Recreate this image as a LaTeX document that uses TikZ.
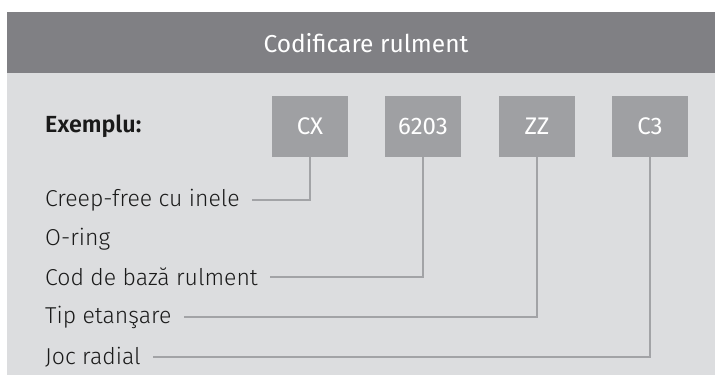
\documentclass[tikz,border=0pt]{standalone}
\usepackage{fontspec}
\setmainfont{Fira Sans Light}[BoldFont={Fira Sans SemiBold}]
\newfontfamily\boxfont{Fira Sans}
\usepackage{tikz}

\definecolor{headgray}{HTML}{808084}
\definecolor{panelgray}{HTML}{DCDDDF}
\definecolor{codegray}{HTML}{9FA0A3}
\definecolor{linegray}{HTML}{A2A3A6}
\definecolor{textdark}{HTML}{1A1A1A}

\tikzset{
  codebox/.style={fill=codegray, minimum width=76pt, minimum height=61pt, inner sep=0pt,
    text=white, font=\boxfont\fontsize{24}{28}\selectfont},
  label/.style={anchor=west, inner sep=0pt, text=textdark, font=\fontsize{23}{26}\selectfont},
  leader/.style={draw=linegray, line width=2pt, shorten >=12pt}
}

\begin{document}
\begin{tikzpicture}[x=1pt,y=-1pt]
            \useasboundingbox (0,0) rectangle (715,383);
            \fill[panelgray] (7,73) rectangle (715,375);
            \fill[headgray] (7,12) rectangle (715,73);

            \node[text=white, font=\boxfont\fontsize{24.5}{28}\selectfont] (title) at (366,43) {Codificare rulment};
            \node[anchor=west, inner sep=0pt, text=textdark, font=\bfseries\fontsize{23.3}{26}\selectfont] (exemplu) at (45,126) {Exemplu:};

            \node[codebox] (cx) at (310,126.5) {CX};
            \node[codebox] (code) at (423,126.5) {6203};
            \node[codebox] (zz) at (537,126.5) {ZZ};
            \node[codebox] (cthree) at (650,126.5) {C3};

            \node[label] (creep) at (45,200) {Creep-free cu inele};
            \node[label] (oring) at (45,239) {O-ring};
            \node[label] (cod) at (45,277) {Cod de bază rulment};
            \node[label] (tip) at (45,317) {Tip etanşare};
            \node[label] (joc) at (45,357) {Joc radial};

            \draw[leader] (cx.south) |- (creep.east);
            \draw[leader] (code.south) |- (cod.east);
            \draw[leader] (zz.south) |- (tip.east);
            \draw[leader] (cthree.south) |- (joc.east);
        \end{tikzpicture}
\end{document}
